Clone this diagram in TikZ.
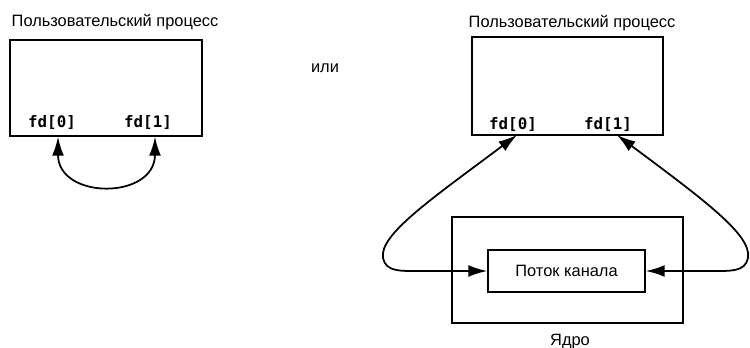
\documentclass[tikz,border=0pt]{standalone}
\usepackage{fontspec}
\setmainfont{Liberation Sans}
\setmonofont{DejaVu Sans Mono}
\usetikzlibrary{arrows.meta, positioning, calc}

\begin{document}
\begin{tikzpicture}[
    x=0.03cm, y=-0.03cm,
    box/.style={draw, line width=1.3pt, inner sep=0pt, minimum width=#1},
    title/.style={font=\fontsize{14}{16}\selectfont, inner sep=0pt},
    fdlabel/.style={font=\fontsize{13.5}{16}\selectfont\ttfamily\bfseries, inner sep=1pt},
    tip/.tip={Latex[length=16pt,width=10pt]},
    arrow/.style={tip-tip, line width=1.5pt}
]
\useasboundingbox (0,0) rectangle (750,348);

% left: one process
\node[box=5.76cm, minimum height=2.88cm] (proc1) at (106,88) {};
\node[title] (title1) at (115,22) {Пользовательский процесс};
\node[fdlabel] (fdA) at (52,123) {fd[0]};
\node[fdlabel] (fdB) at (148,123) {fd[1]};

\node[title] (ili) at (325,68) {или};

% right: process and kernel
\node[box=5.73cm, minimum height=2.94cm] (proc2) at (567.5,86) {};
\node[title] (title2) at (572,23) {Пользовательский процесс};
\node[fdlabel] (fdC) at (513,125) {fd[0]};
\node[fdlabel] (fdD) at (608,125) {fd[1]};
\node[box=6.93cm, minimum height=3.18cm] (kernel) at (567.5,270) {};
\node[title] (kname) at (570,342) {Ядро};
\node[box=4.71cm, minimum height=1.26cm, title] (pipe) at (566.5,271) {Поток канала};

\coordinate (tipA) at (fdA.south -| 58,0);
\coordinate (tipB) at (fdB.south -| 155,0);
\coordinate (tipC) at (517,135);
\coordinate (tipD) at (617,135);

\draw[arrow] (tipA |- proc1.south) .. controls (58,200) and (155,200) .. (tipB |- proc1.south);
\draw[arrow] (tipC) .. controls (430,200) and (379,235) .. (383,258)
    .. controls (386,272) and (400,271) .. (420,271) -- (pipe.west);
\draw[arrow] (tipD) .. controls (704,200) and (752,235) .. (748,258)
    .. controls (745,272) and (731,271) .. (711,271) -- (pipe.east);

\end{tikzpicture}
\end{document}
